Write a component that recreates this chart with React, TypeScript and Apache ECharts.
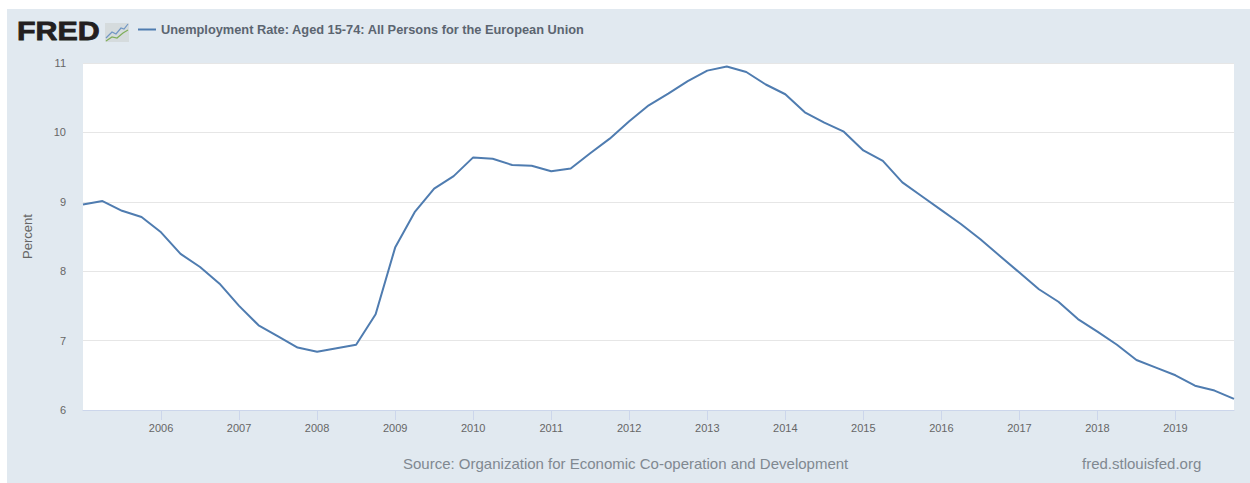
import React, { useEffect, useRef } from "react";
import * as echarts from "echarts";

const quarters = [
  "2005-Q1","2005-Q2","2005-Q3","2005-Q4","2006-Q1","2006-Q2","2006-Q3","2006-Q4",
  "2007-Q1","2007-Q2","2007-Q3","2007-Q4","2008-Q1","2008-Q2","2008-Q3","2008-Q4",
  "2009-Q1","2009-Q2","2009-Q3","2009-Q4","2010-Q1","2010-Q2","2010-Q3","2010-Q4",
  "2011-Q1","2011-Q2","2011-Q3","2011-Q4","2012-Q1","2012-Q2","2012-Q3","2012-Q4",
  "2013-Q1","2013-Q2","2013-Q3","2013-Q4","2014-Q1","2014-Q2","2014-Q3","2014-Q4",
  "2015-Q1","2015-Q2","2015-Q3","2015-Q4","2016-Q1","2016-Q2","2016-Q3","2016-Q4",
  "2017-Q1","2017-Q2","2017-Q3","2017-Q4","2018-Q1","2018-Q2","2018-Q3","2018-Q4",
  "2019-Q1","2019-Q2","2019-Q3","2019-Q4",
];
const unemployment = [
  8.96,9.01,8.87,8.78,8.56,8.25,8.06,7.82,
  7.50,7.22,7.06,6.90,6.84,6.89,6.94,7.38,
  8.34,8.85,9.19,9.37,9.64,9.62,9.53,9.52,
  9.44,9.48,9.70,9.91,10.16,10.39,10.56,10.74,
  10.89,10.95,10.87,10.69,10.55,10.29,10.14,10.01,
  9.74,9.59,9.28,9.08,8.88,8.68,8.46,8.22,
  7.98,7.74,7.56,7.31,7.13,6.94,6.72,6.61,
  6.50,6.35,6.28,6.16,
];
const seriesName = "Unemployment Rate: Aged 15-74: All Persons for the European Union";
const sourceText = "Source: Organization for Economic Co-operation and Development";
const siteText = "fred.stlouisfed.org";

const isYearTick = (i: number) => i > 0 && i % 4 === 0;

export default function App() {
  const ref = useRef<HTMLDivElement>(null);
  useEffect(() => {
    const chart = echarts.init(ref.current!, undefined, { renderer: "svg" });
    chart.setOption({
      animation: false,
      backgroundColor: "#ffffff",
      textStyle: { fontFamily: "Liberation Sans" },
      grid: { left: 83, right: 16, top: 63, bottom: 73, backgroundColor: "#ffffff", show: true, borderWidth: 0 },
      legend: {
        show: true,
        left: 138,
        top: 23,
        icon: "path://M0 0H18V2H0Z",
        itemWidth: 18,
        itemHeight: 2,
        itemGap: 0,
        padding: 0,
        selectedMode: false,
        textStyle: { fontSize: 12.8, fontWeight: "bold", color: "#5b6570", fontFamily: "Liberation Sans", padding: [0, 0, 0, 0] },
        data: [seriesName],
      },
      xAxis: {
        type: "category",
        boundaryGap: false,
        data: quarters,
        axisLine: { lineStyle: { color: "#ccd6eb", width: 1 } },
        axisTick: { show: true, length: 10, interval: (i: number) => isYearTick(i), lineStyle: { color: "#ccd6eb" } },
        axisLabel: {
          interval: (i: number) => isYearTick(i),
          formatter: (v: string) => v.slice(0, 4),
          color: "#666666",
          fontSize: 11,
          margin: 12,
        },
        splitLine: { show: false },
      },
      yAxis: {
        type: "value",
        min: 6,
        max: 11,
        interval: 1,
        name: "Percent",
        nameLocation: "middle",
        nameGap: 49,
        nameRotate: 90,
        nameTextStyle: { color: "#666666", fontSize: 13 },
        axisLine: { show: false },
        axisTick: { show: false },
        axisLabel: { color: "#666666", fontSize: 11, margin: 17 },
        splitLine: { lineStyle: { color: "#e6e6e6", width: 1 } },
      },
      series: [
        {
          name: seriesName,
          type: "line",
          data: unemployment,
          showSymbol: false,
          symbol: "none",
          smooth: false,
          lineStyle: { color: "#4f7cb0", width: 2 },
          itemStyle: { color: "#4f7cb0" },
          z: 5,
        },
      ],
      graphic: [
        { type: "rect", z: -10, silent: true, shape: { x: 7, y: 9, width: 1243, height: 474 }, style: { fill: "#e1e9f0" } },
        { type: "text", z: 10, x: 17, y: 18, scaleX: 1.17, style: { text: "FRED", font: "900 26px 'Liberation Sans'", fill: "#231f20", stroke: "#231f20", lineWidth: 0.8 } },
        { type: "rect", z: 10, shape: { x: 105, y: 23, width: 24, height: 19 }, style: { fill: "#d5dbdd" } },
        { type: "polyline", z: 11, shape: { points: [[106, 38], [112, 32], [116, 34], [121, 28], [124, 29], [128, 24]] }, style: { stroke: "#6f96c4", lineWidth: 1.2, fill: "none" } },
        { type: "polyline", z: 11, shape: { points: [[106, 41], [112, 37], [117, 38], [123, 33], [128, 30]] }, style: { stroke: "#7fae5a", lineWidth: 1.2, fill: "none" } },
        { type: "text", z: 10, x: 403, y: 456, style: { text: sourceText, font: "15px 'Liberation Sans'", fill: "#808890" } },
        { type: "text", z: 10, x: 1082, y: 456, style: { text: siteText, font: "15px 'Liberation Sans'", fill: "#808890" } },
      ],
    });
    return () => chart.dispose();
  }, []);
  return <div ref={ref} style={{ position: "absolute", left: 0, top: 0, width: 1250, height: 483 }} />;
}
